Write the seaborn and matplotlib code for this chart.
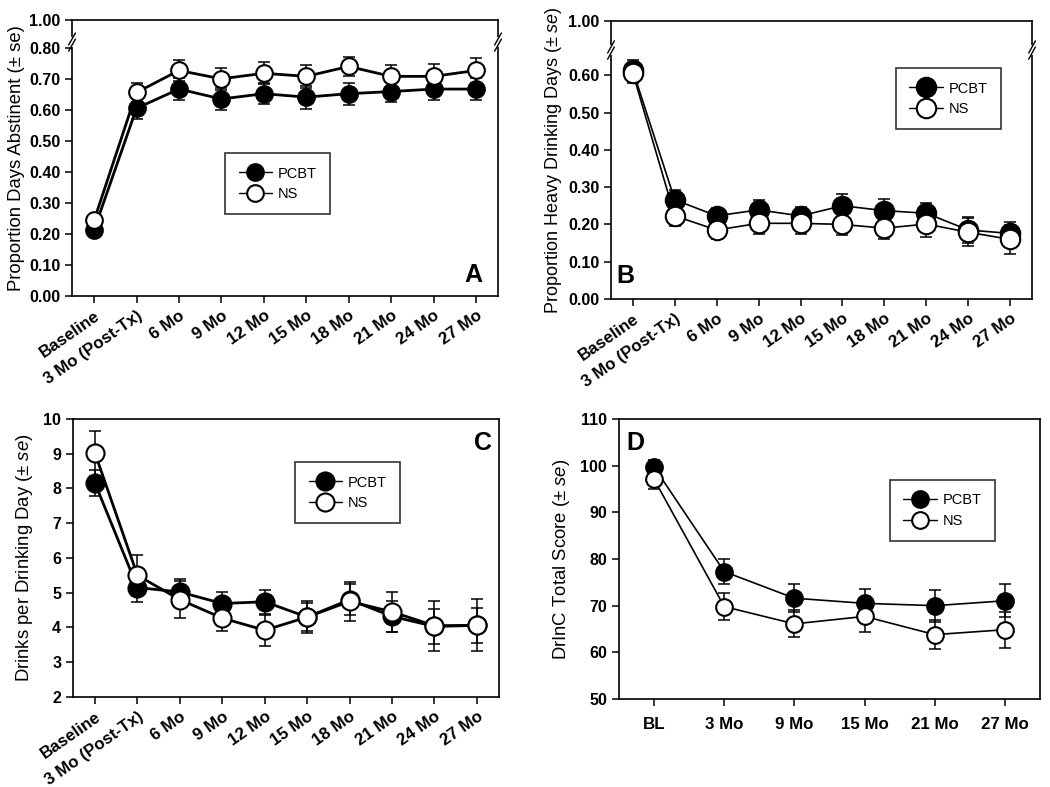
import numpy as np
import seaborn as sns
import matplotlib.pyplot as plt
from matplotlib.lines import Line2D

months = ["Baseline", "3 Mo (Post-Tx)", "6 Mo", "9 Mo", "12 Mo", "15 Mo",
          "18 Mo", "21 Mo", "24 Mo", "27 Mo"]
drinc_months = ["BL", "3 Mo", "9 Mo", "15 Mo", "21 Mo", "27 Mo"]

# A: proportion days abstinent
pda_pcbt = [0.214, 0.606, 0.668, 0.636, 0.653, 0.642, 0.653, 0.660, 0.668, 0.668]
pda_pcbt_se = [0.010, 0.034, 0.035, 0.035, 0.033, 0.037, 0.036, 0.035, 0.035, 0.035]
pda_ns = [0.244, 0.657, 0.728, 0.701, 0.719, 0.709, 0.741, 0.709, 0.709, 0.728]
pda_ns_se = [0.012, 0.032, 0.033, 0.036, 0.035, 0.037, 0.030, 0.036, 0.041, 0.041]

# B: proportion heavy drinking days
phd_pcbt = [0.613, 0.266, 0.223, 0.239, 0.223, 0.250, 0.237, 0.230, 0.185, 0.176]
phd_pcbt_se = [0.028, 0.025, 0.020, 0.027, 0.023, 0.032, 0.031, 0.028, 0.034, 0.031]
phd_ns = [0.606, 0.223, 0.185, 0.203, 0.203, 0.200, 0.190, 0.201, 0.179, 0.160]
phd_ns_se = [0.027, 0.027, 0.025, 0.029, 0.029, 0.029, 0.030, 0.034, 0.037, 0.038]

# C: drinks per drinking day
dpd_pcbt = [8.15, 5.15, 5.02, 4.69, 4.74, 4.30, 4.80, 4.32, 4.03, 4.06]
dpd_pcbt_se = [0.37, 0.41, 0.37, 0.34, 0.34, 0.40, 0.45, 0.45, 0.50, 0.50]
dpd_ns = [9.01, 5.50, 4.80, 4.27, 3.92, 4.30, 4.75, 4.45, 4.05, 4.06]
dpd_ns_se = [0.65, 0.58, 0.53, 0.36, 0.45, 0.46, 0.55, 0.58, 0.72, 0.75]

# D: DrInC total score
drinc_pcbt = [99.7, 77.3, 71.6, 70.5, 70.0, 71.05]
drinc_pcbt_se = [1.5, 2.7, 3.0, 3.0, 3.4, 3.55]
drinc_ns = [97.1, 69.8, 66.1, 67.7, 63.8, 64.85]
drinc_ns_se = [2.1, 2.85, 2.9, 3.35, 3.1, 3.9]

sns.set_style("ticks")
plt.rcParams["font.family"] = ["Liberation Sans", "DejaVu Sans"]
plt.rcParams["mathtext.fontset"] = "custom"
plt.rcParams["mathtext.rm"] = "Liberation Sans"
plt.rcParams["mathtext.it"] = "Liberation Sans:italic"
for k in ["text.color", "axes.labelcolor", "xtick.color", "ytick.color"]:
    plt.rcParams[k] = "black"

fig = plt.figure(figsize=(10.5, 7.87), dpi=100)
fig.patch.set_facecolor("white")

XROT = 35


def draw_panel(ax, labels, pcbt, pcbt_se, ns, ns_se, ms, lw):
    pos = np.arange(len(labels))
    handles = []
    for vals, se, fc, name, z in [(pcbt, pcbt_se, "black", "PCBT", 3),
                                  (ns, ns_se, "white", "NS", 4)]:
        ax.errorbar(pos, vals, yerr=se, fmt="none", ecolor="black",
                    elinewidth=1.1, capsize=4, capthick=1.1, zorder=z - 0.5)
        sns.lineplot(x=pos, y=vals, ax=ax, color="black", linewidth=lw,
                     marker="o", markersize=ms, markerfacecolor=fc,
                     markeredgecolor="black", markeredgewidth=1.5,
                     errorbar=None, zorder=z)
        handles.append(Line2D([], [], color="black", linewidth=1.0, marker="o",
                              markersize=ms, markerfacecolor=fc,
                              markeredgecolor="black", markeredgewidth=1.5,
                              label=name))
    ax.set_xlim(-0.52, len(labels) - 0.48)
    ax.set_xticks(pos)
    for s in ax.spines.values():
        s.set_visible(True)
        s.set_linewidth(1.2)
        s.set_color("black")
    ax.tick_params(direction="out", length=5, width=1.1, colors="black")
    ax.tick_params(axis="y", labelsize=11.5)
    ax.tick_params(axis="x", labelsize=12.2)
    ax.set_facecolor("white")
    return handles


def add_legend(ax, handles, anchor):
    leg = ax.legend(handles=handles, loc="upper left", bbox_to_anchor=anchor,
                    frameon=True, fancybox=False, edgecolor="black",
                    fontsize=10.5, handlelength=2.3, borderpad=0.9,
                    labelspacing=0.45, handletextpad=0.4)
    leg.get_frame().set_linewidth(1.2)


def add_break(ax, yfrac):
    for xf in (0, 1):
        ax.plot([xf, xf], [yfrac - 0.012, yfrac + 0.012], color="white",
                linewidth=3, transform=ax.transAxes, clip_on=False, zorder=10)
        for dy in (-0.011, 0.011):
            ax.plot([xf - 0.008, xf + 0.008],
                    [yfrac + dy - 0.022, yfrac + dy + 0.022],
                    color="black", linewidth=1.0, transform=ax.transAxes,
                    clip_on=False, zorder=11)


def bold_ticks(ax):
    for t in ax.get_xticklabels() + ax.get_yticklabels():
        t.set_fontweight("bold")


# Panel A
axA = fig.add_axes([0.0686, 0.6239, 0.4057, 0.3507])
hA = draw_panel(axA, months, pda_pcbt, pda_pcbt_se, pda_ns, pda_ns_se, 12, 2.0)
topA = 0.891
axA.set_ylim(0, topA)
axA.set_yticks([0, 0.1, 0.2, 0.3, 0.4, 0.5, 0.6, 0.7, 0.8, topA])
axA.set_yticklabels(["0.00", "0.10", "0.20", "0.30", "0.40", "0.50", "0.60",
                     "0.70", "0.80", "1.00"])
axA.set_xticklabels(months, rotation=XROT, ha="right", rotation_mode="anchor")
axA.set_ylabel("Proportion Days Abstinent (± se)", fontsize=13.3, labelpad=3)
add_legend(axA, hA, (0.343, 0.543))
add_break(axA, 0.92)
axA.text(0.941, 0.076, "A", transform=axA.transAxes, fontsize=18,
         fontweight="bold", ha="center", va="center")
bold_ticks(axA)

# Panel B
axB = fig.add_axes([0.5819, 0.6200, 0.4010, 0.3532])
hB = draw_panel(axB, months, phd_pcbt, phd_pcbt_se, phd_ns, phd_ns_se, 14, 1.2)
topB = 0.745
axB.set_ylim(0, topB)
axB.set_yticks([0, 0.1, 0.2, 0.3, 0.4, 0.5, 0.6, topB])
axB.set_yticklabels(["0.00", "0.10", "0.20", "0.30", "0.40", "0.50", "0.60",
                     "1.00"])
axB.set_xticklabels(months, rotation=XROT, ha="right", rotation_mode="anchor")
axB.set_ylabel(r"Proportion Heavy Drinking Days (± $\it{se}$)", fontsize=13,
               labelpad=3)
add_legend(axB, hB, (0.66, 0.856))
add_break(axB, 0.896)
axB.text(0.033, 0.083, "B", transform=axB.transAxes, fontsize=18,
         fontweight="bold", ha="center", va="center")
bold_ticks(axB)

# Panel C
axC = fig.add_axes([0.0695, 0.1144, 0.4057, 0.3532])
hC = draw_panel(axC, months, dpd_pcbt, dpd_pcbt_se, dpd_ns, dpd_ns_se, 13, 2.0)
axC.set_ylim(2, 10)
axC.set_yticks(range(2, 11))
axC.set_xticklabels(months, rotation=XROT, ha="right", rotation_mode="anchor")
axC.set_ylabel(r"Drinks per Drinking Day (± $\it{se}$)", fontsize=13.3,
               labelpad=6)
add_legend(axC, hC, (0.505, 0.870))
axC.text(0.962, 0.914, "C", transform=axC.transAxes, fontsize=18,
         fontweight="bold", ha="center", va="center")
bold_ticks(axC)

# Panel D
axD = fig.add_axes([0.5895, 0.1118, 0.4010, 0.3558])
hD = draw_panel(axD, drinc_months, drinc_pcbt, drinc_pcbt_se, drinc_ns,
                drinc_ns_se, 12, 1.2)
axD.set_xlim(-0.5, 5.5)
axD.set_ylim(50, 110)
axD.set_yticks(range(50, 111, 10))
axD.set_xticklabels(drinc_months)
axD.tick_params(axis="x", pad=8)
axD.set_ylabel(r"DrInC Total Score (± $\it{se}$)", fontsize=13.3, labelpad=6)
add_legend(axD, hD, (0.627, 0.807))
axD.text(0.038, 0.914, "D", transform=axD.transAxes, fontsize=18,
         fontweight="bold", ha="center", va="center")
bold_ticks(axD)

fig.savefig("out.png", dpi=100, facecolor="white")
